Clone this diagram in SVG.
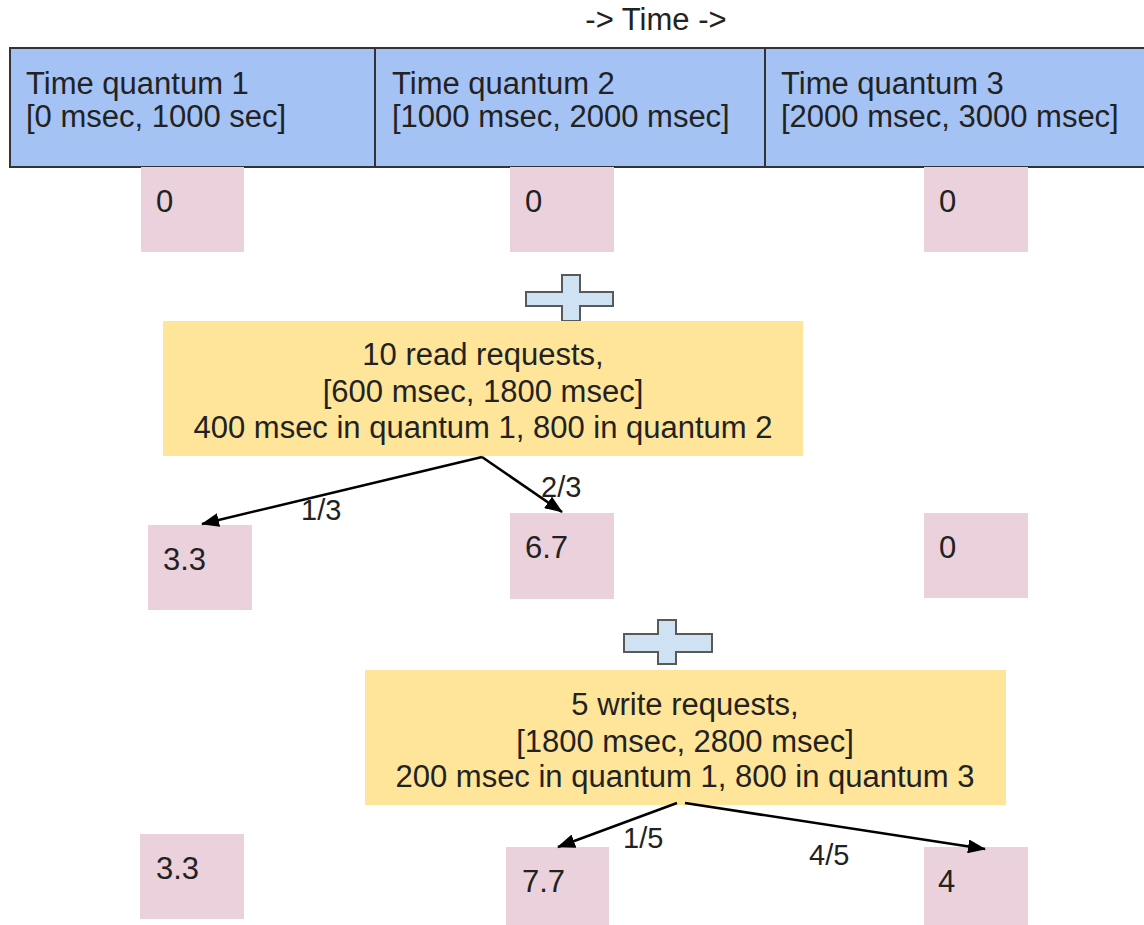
<svg xmlns="http://www.w3.org/2000/svg" width="1144" height="925" viewBox="0 0 1144 925">
<style>
text{font-family:"Liberation Sans",Arial,sans-serif;fill:#222;font-size:31px}
.lbl{font-size:29px}
.mid{text-anchor:middle}
.hdr{fill:#a4c2f4;stroke:#333;stroke-width:2}
.cnt{fill:#ead1dc}
.req{fill:#ffe599}
.plus{fill:#cfe2f3;stroke:#595959;stroke-width:2}
.conn{stroke:#000;stroke-width:2.5;fill:none;marker-end:url(#ah)}
</style>
<defs>
<marker id="ah" markerWidth="18" markerHeight="14" refX="17" refY="7" orient="auto" markerUnits="userSpaceOnUse" viewBox="0 0 18 14">
<path d="M0,0 L18,7 L0,14 z" fill="#000"/>
</marker>
</defs>
<rect width="1144" height="925" fill="#fff"/>
<text id="time-axis" x="656" y="30" class="mid">-&gt; Time -&gt;</text>
<g id="q1"><rect class="hdr" x="10" y="48" width="365" height="119"/><text x="26" y="94">Time quantum 1</text><text x="26" y="127">[0 msec, 1000 sec]</text></g>
<g id="q2"><rect class="hdr" x="375" y="48" width="390" height="119"/><text x="392" y="94">Time quantum 2</text><text x="392" y="127">[1000 msec, 2000 msec]</text></g>
<g id="q3"><rect class="hdr" x="765" y="48" width="390" height="119"/><text x="781" y="94">Time quantum 3</text><text x="781" y="127">[2000 msec, 3000 msec]</text></g>

<g id="c11"><rect class="cnt" x="141" y="167" width="103" height="85"/><text x="156" y="212">0</text></g>
<g id="c12"><rect class="cnt" x="510" y="167" width="104" height="85"/><text x="525" y="212">0</text></g>
<g id="c13"><rect class="cnt" x="924" y="167" width="104" height="85"/><text x="939" y="212">0</text></g>

<g id="plus1"><path class="plus" d="M562,275 H580 V292 H613 V306 H580 V321 H562 V306 H526 V292 H562 Z"/></g>

<g id="reads"><rect class="req" x="163" y="321" width="640" height="135"/>
<text class="mid" x="483" y="365">10 read requests,</text>
<text class="mid" x="483" y="402">[600 msec, 1800 msec]</text>
<text class="mid" x="483" y="438">400 msec in quantum 1, 800 in quantum 2</text></g>

<g id="c21"><rect class="cnt" x="148" y="525" width="104" height="85"/><text x="163" y="570">3.3</text></g>
<g id="c22"><rect class="cnt" x="510" y="513" width="104" height="86"/><text x="525" y="558">6.7</text></g>
<g id="c23"><rect class="cnt" x="924" y="513" width="104" height="85"/><text x="939" y="558">0</text></g>

<g id="plus2"><path class="plus" d="M658,620 H676 V634 H712 V652 H676 V664 H658 V652 H624 V634 H658 Z"/></g>

<g id="writes"><rect class="req" x="365" y="670" width="641" height="135"/>
<text class="mid" x="685" y="715">5 write requests,</text>
<text class="mid" x="685" y="752">[1800 msec, 2800 msec]</text>
<text class="mid" x="685" y="787">200 msec in quantum 1, 800 in quantum 3</text></g>

<g id="c31"><rect class="cnt" x="140" y="834" width="104" height="85"/><text x="156" y="879">3.3</text></g>
<g id="c32"><rect class="cnt" x="506" y="847" width="103" height="78"/><text x="522" y="892">7.7</text></g>
<g id="c33"><rect class="cnt" x="924" y="847" width="104" height="78"/><text x="938" y="892">4</text></g>

<g id="connectors">
<line class="conn" x1="482" y1="457" x2="202" y2="524"/>
<line class="conn" x1="482" y1="457" x2="562" y2="512"/>
<line class="conn" x1="677" y1="803" x2="558" y2="847"/>
<line class="conn" x1="685" y1="803" x2="985" y2="849"/>
<text class="lbl" x="301" y="520">1/3</text>
<text class="lbl" x="541" y="497">2/3</text>
<text class="lbl" x="623" y="848">1/5</text>
<text class="lbl" x="809" y="865">4/5</text>
</g>
</svg>
